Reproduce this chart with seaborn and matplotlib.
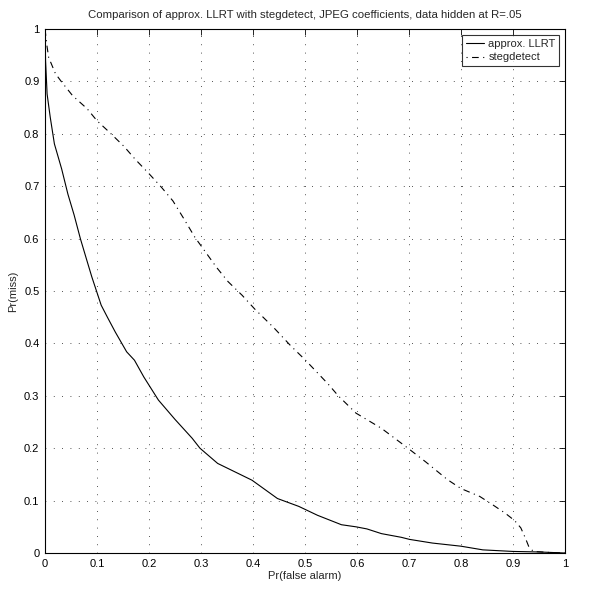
import numpy as np
import pandas as pd
import seaborn as sns
from matplotlib import pyplot as plt

# ROC-style curves
llrt_fa = [0.0, 0.001, 0.004, 0.010, 0.018, 0.032, 0.044, 0.056, 0.068, 0.08, 0.09, 0.099,
           0.108, 0.12, 0.135, 0.157, 0.172, 0.19, 0.218, 0.25, 0.283, 0.298, 0.332, 0.398,
           0.447, 0.488, 0.524, 0.57, 0.598, 0.619, 0.647, 0.685, 0.701, 0.745, 0.8, 0.842,
           0.9, 0.95, 1.0]
llrt_miss = [1.0, 0.94, 0.876, 0.832, 0.781, 0.733, 0.685, 0.645, 0.6, 0.56, 0.527, 0.50,
             0.473, 0.45, 0.422, 0.384, 0.368, 0.336, 0.292, 0.255, 0.219, 0.2, 0.171, 0.139,
             0.104, 0.089, 0.072, 0.054, 0.05, 0.046, 0.037, 0.03, 0.026, 0.019, 0.013, 0.006,
             0.003, 0.002, 0.0]

steg_fa = [0.0, 0.004, 0.007, 0.02, 0.032, 0.053, 0.081, 0.1, 0.124, 0.152, 0.173, 0.2,
           0.224, 0.246, 0.267, 0.288, 0.309, 0.33, 0.352, 0.379, 0.403, 0.44, 0.473, 0.5,
           0.544, 0.564, 0.598, 0.647, 0.698, 0.732, 0.774, 0.8, 0.836, 0.861, 0.885, 0.903,
           0.915, 0.924, 0.93, 0.939, 0.97, 1.0]
steg_miss = [1.0, 0.966, 0.946, 0.915, 0.899, 0.873, 0.848, 0.825, 0.803, 0.776, 0.752, 0.724,
             0.698, 0.672, 0.638, 0.603, 0.574, 0.545, 0.518, 0.492, 0.466, 0.43, 0.395, 0.369,
             0.323, 0.30, 0.267, 0.238, 0.2, 0.174, 0.14, 0.123, 0.108, 0.092, 0.076, 0.062,
             0.048, 0.028, 0.013, 0.003, 0.001, 0.0]

tick_labels = ["0", "0.1", "0.2", "0.3", "0.4", "0.5", "0.6", "0.7", "0.8", "0.9", "1"]

df = pd.concat([
    pd.DataFrame({"fa": llrt_fa, "miss": llrt_miss, "method": "approx. LLRT"}),
    pd.DataFrame({"fa": steg_fa, "miss": steg_miss, "method": "stegdetect"}),
], ignore_index=True)

sns.set_theme(style="white")
plt.rcParams.update({
    "font.family": ["Liberation Sans", "DejaVu Sans"],
    "font.size": 8,
    "axes.edgecolor": "black",
    "axes.linewidth": 0.8,
    "xtick.direction": "in",
    "ytick.direction": "in",
    "xtick.color": "black",
    "ytick.color": "black",
})

fig = plt.figure(figsize=(5.94, 5.94), dpi=100)
ax = fig.add_axes([0.0758, 0.069, 0.8754, 0.882])

sns.lineplot(data=df, x="fa", y="miss", style="method", color="black",
             dashes={"approx. LLRT": "", "stegdetect": (6, 4, 1, 4)},
             linewidth=0.8, estimator=None, sort=False, ax=ax)

ax.set_xlim(0, 1)
ax.set_ylim(0, 1)
ax.set_xticks(np.arange(0, 1.01, 0.1))
ax.set_yticks(np.arange(0, 1.01, 0.1))
ax.set_xticklabels(tick_labels, fontsize=8)
ax.set_yticklabels(tick_labels, fontsize=8)
ax.tick_params(length=4, width=0.6, top=True, right=True, pad=4)
ax.grid(True, color="0.1", linestyle=(0, (1, 9)), linewidth=0.6)
ax.set_xlabel("Pr(false alarm)", fontsize=8, labelpad=2)
ax.set_ylabel("Pr(miss)", fontsize=8, labelpad=4)
ax.set_title("Comparison of approx. LLRT with stegdetect, JPEG coefficients, data hidden at R=.05",
             fontsize=8.2, pad=8)

leg = ax.legend(loc="upper right", frameon=True, fancybox=False, fontsize=8,
                borderaxespad=0.5, handlelength=1.6, handletextpad=0.4,
                borderpad=0.35, labelspacing=0.35, title=None)
leg.get_frame().set_edgecolor("black")
leg.get_frame().set_linewidth(0.8)
# legend handle: dot - dash - dot, like the reference key
leg.get_lines()[1].set_linestyle((0, (1, 4, 6, 4)))

fig.savefig("out.png", dpi=100)
